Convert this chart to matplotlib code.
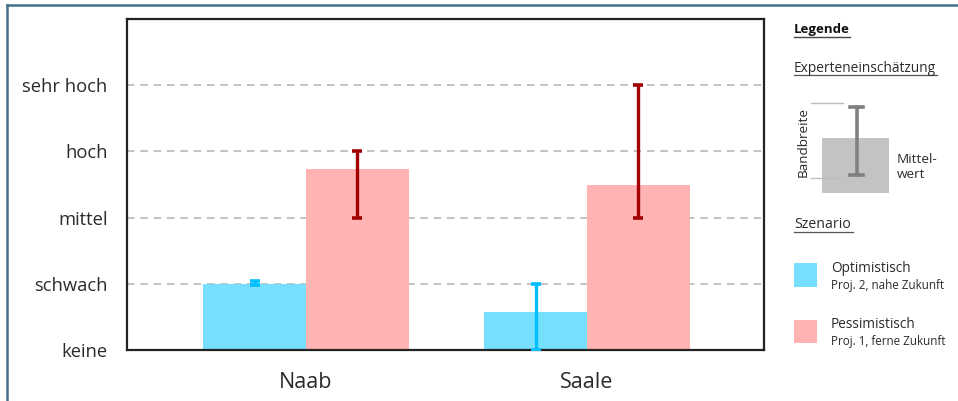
import matplotlib.pyplot as plt
from matplotlib.patches import Rectangle
from matplotlib.lines import Line2D

plt.rcParams['font.family'] = ['Open Sans', 'DejaVu Sans']

## Data
rivers = ["Naab", "Saale"]
levels = ["keine", "schwach", "mittel", "hoch", "sehr hoch"]

opt_mean = [1.0, 0.58]
opt_low = [0.98, 0.0]
opt_high = [1.035, 1.0]

pes_mean = [2.74, 2.49]
pes_low = [2.0, 2.0]
pes_high = [3.0, 4.0]

BLUE = "#76DFFD"
PINK = "#FFB3B3"
BLUE_ERR = "#00BFFF"
RED_ERR = "#A30000"
TXT = "#2B2B2B"
W, H = 958, 401


def fx(px):
    return px / W


def fy(py):
    return 1 - py / H


##Figure
fig = plt.figure(figsize=(9.58, 4.01), dpi=100)
ax = fig.add_axes([fx(127), fy(350), fx(764) - fx(127), fy(19) - fy(350)])

x = list(range(len(rivers)))
bw = 0.365
x_opt = [i - bw / 2 for i in x]
x_pes = [i + bw / 2 for i in x]

ax.bar(x_opt, opt_mean, width=bw, color=BLUE, zorder=2)
ax.bar(x_pes, pes_mean, width=bw, color=PINK, zorder=2)

err_kw = dict(fmt="none", elinewidth=2.4, capsize=3.8, capthick=2.6, zorder=3)
ax.errorbar(x_opt, [(l + h) / 2 for l, h in zip(opt_low, opt_high)],
            yerr=[(h - l) / 2 for l, h in zip(opt_low, opt_high)],
            ecolor=BLUE_ERR, **err_kw)
ax.errorbar(x_pes, [(l + h) / 2 for l, h in zip(pes_low, pes_high)],
            yerr=[(h - l) / 2 for l, h in zip(pes_low, pes_high)],
            ecolor=RED_ERR, **err_kw)

ax.set_xlim(-0.637, 1.630)
ax.set_ylim(0, 5)
ax.set_yticks(range(len(levels)))
ax.set_yticklabels(levels, fontsize=13.2, color=TXT)
ax.set_xticks(x)
ax.set_xticklabels(rivers, fontsize=15.5, color=TXT)
ax.tick_params(axis="y", length=0, pad=14)
ax.tick_params(axis="x", length=0, pad=16)
for y in range(1, len(levels)):
    ax.axhline(y, color="#B8B8B8", lw=1.2, ls=(0, (4.5, 3.5)), zorder=1)
for s in ax.spines.values():
    s.set_linewidth(1.6)
    s.set_color("#222222")

## Legend (drawn by hand in figure pixels)
fig.text(fx(794), fy(30), "Legende", fontsize=9.5, fontweight="bold",
         va="center", color="#111111")
fig.add_artist(Line2D([fx(794), fx(850)], [fy(37), fy(37)], color="#444444", lw=1))
fig.text(fx(794), fy(68), "Experteneinschätzung", fontsize=9.9,
         va="center", color=TXT)
fig.add_artist(Line2D([fx(794), fx(937)], [fy(75), fy(75)], color="#555555", lw=0.9))

fig.add_artist(Rectangle((fx(822), fy(193)), fx(889) - fx(822), fy(138) - fy(193),
                         transform=fig.transFigure, color="#C3C3C3", lw=0))
fig.add_artist(Line2D([fx(856.5)] * 2, [fy(107), fy(175)], color="#808080", lw=2.6))
for yy in (107, 175):
    fig.add_artist(Line2D([fx(850), fx(863)], [fy(yy), fy(yy)], color="#808080", lw=2.6))
for yy in (103, 178):
    fig.add_artist(Line2D([fx(811), fx(843)], [fy(yy), fy(yy)], color="#BDBDBD", lw=1))
fig.text(fx(803), fy(142), "Bandbreite", fontsize=9.7, rotation=90,
         ha="center", va="center", color=TXT)
fig.text(fx(897), fy(167), "Mittel-\nwert", fontsize=9.7, va="center",
         linespacing=1.15, color=TXT)

fig.text(fx(794), fy(225), "Szenario", fontsize=10.2, va="center", color=TXT)
fig.add_artist(Line2D([fx(794), fx(853)], [fy(232), fy(232)], color="#555555", lw=0.9))

fig.add_artist(Rectangle((fx(794), fy(287)), fx(817) - fx(794), fy(263) - fy(287),
                         transform=fig.transFigure, color=BLUE, lw=0))
fig.text(fx(831), fy(268), "Optimistisch", fontsize=9.8, va="center", color=TXT)
fig.text(fx(831), fy(285), "Proj. 2, nahe Zukunft", fontsize=8.4, va="center", color=TXT)

fig.add_artist(Rectangle((fx(794), fy(343)), fx(817) - fx(794), fy(320) - fy(343),
                         transform=fig.transFigure, color=PINK, lw=0))
fig.text(fx(831), fy(324), "Pessimistisch", fontsize=9.8, va="center", color=TXT)
fig.text(fx(831), fy(341), "Proj. 1, ferne Zukunft", fontsize=8.4, va="center", color=TXT)

# outer frame: only top and left edges are visible
fig.add_artist(Line2D([fx(7), fx(958)], [fy(5), fy(5)], color="#45708D", lw=1.8))
fig.add_artist(Line2D([fx(7), fx(7)], [fy(5), fy(401)], color="#45708D", lw=1.8))

fig.savefig("out.png", dpi=100)
